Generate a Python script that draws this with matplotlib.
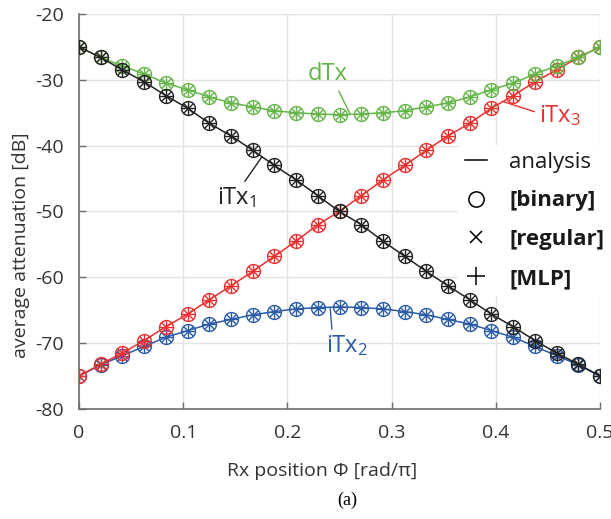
import numpy as np
import matplotlib
matplotlib.use('Agg')
import matplotlib.pyplot as plt
from matplotlib.lines import Line2D

plt.rcParams['font.family'] = ['Open Sans', 'DejaVu Sans']
plt.rcParams['mathtext.default'] = 'regular'
plt.rcParams['axes.unicode_minus'] = False

# Rx position in units of rad/pi, 25 samples
phi = np.arange(25) / 48

# values (first half, the curves are symmetric around 0.25)
itx1_half = [-25.0, -26.6, -28.5, -30.3, -32.4, -34.3, -36.6, -38.5, -40.7, -43.0, -45.2, -47.6, -50.0]
itx1_tail = [-52.0, -54.5, -56.8, -59.1, -61.3, -63.4, -65.6, -67.5, -69.6, -71.5, -73.2, -75.0]
dtx_half = [-25.0, -26.6, -27.9, -29.1, -30.5, -31.5, -32.6, -33.5, -34.1, -34.7, -35.0, -35.2, -35.3]
itx2_half = [-75.0, -73.3, -71.9, -70.5, -69.1, -68.1, -67.1, -66.4, -65.7, -65.2, -64.8, -64.6, -64.5]

itx1 = np.array(itx1_half + itx1_tail)
itx3 = itx1[::-1]
dtx = np.array(dtx_half + dtx_half[-2::-1])
itx2 = np.array(itx2_half + itx2_half[-2::-1])

c_black = '#222222'
c_red = '#e8312f'
c_green = '#63b548'
c_blue = '#2b5ba8'

fig = plt.figure(figsize=(6.11, 5.19), dpi=100)
ax = fig.add_axes([0.1293, 0.212, 0.8527, 0.761])

for y, col in [(itx2, c_blue), (itx3, c_red), (dtx, c_green), (itx1, c_black)]:
    ax.plot(phi, y, color=col, lw=1.1, marker='o', ms=10, mfc='none', mec=col, mew=1.0, zorder=3)
    ax.plot(phi, y, color=col, ls='none', marker='+', ms=10, mew=1.0, zorder=3)
    ax.plot(phi, y, color=col, ls='none', marker='x', ms=7, mew=1.0, zorder=3)

ax.set_xlim(0, 0.5)
ax.set_ylim(-80, -20)
ax.set_xticks([0, 0.1, 0.2, 0.3, 0.4, 0.5])
ax.set_xticklabels(['0', '0.1', '0.2', '0.3', '0.4', '0.5'])
ax.set_yticks(np.arange(-80, -19, 10))
ax.grid(True, color='#e3e3e3', lw=1.0)
ax.set_axisbelow(True)
for s in ['top', 'right']:
    ax.spines[s].set_visible(False)
for s in ['left', 'bottom']:
    ax.spines[s].set_color('#6e6e6e')
    ax.spines[s].set_linewidth(1.2)
ax.tick_params(direction='in', length=5, width=1, color='#6e6e6e',
               labelsize=14, labelcolor='#333333')
ax.tick_params(axis='x', pad=11)
ax.tick_params(axis='y', pad=11)

# axis labels sit a bit off-centre, towards the origin, like in the original
ax.set_xlabel('Rx position Φ [rad/π]', fontsize=14, color='#333333')
ax.set_ylabel('average attenuation [dB]', fontsize=14, color='#333333')
ax.xaxis.set_label_coords(0.466, -0.135)
ax.yaxis.set_label_coords(-0.094, 0.415)

# curve labels
lab = dict(fontsize=17, va='baseline')
ax.annotate('dTx', xy=(0.26, -35.1), xytext=(0.239, -30.0), color=c_green, ha='center', **lab,
            arrowprops=dict(arrowstyle='-', color=c_green, lw=1, relpos=(0.7, 0.0), shrinkA=2, shrinkB=0))
ax.annotate('iTx$_{3}$', xy=(0.407, -33.3), xytext=(0.441, -36.4), color=c_red, ha='left', **lab,
            arrowprops=dict(arrowstyle='-', color=c_red, lw=1, relpos=(0.0, 0.6), shrinkA=1, shrinkB=0))
ax.annotate('iTx$_{1}$', xy=(0.1755, -41.7), xytext=(0.132, -48.9), color=c_black, ha='left', **lab,
            arrowprops=dict(arrowstyle='-', color=c_black, lw=1, relpos=(0.65, 1.0), shrinkA=1, shrinkB=0))
ax.annotate('iTx$_{2}$', xy=(0.241, -64.7), xytext=(0.237, -71.4), color=c_blue, ha='left', **lab,
            arrowprops=dict(arrowstyle='-', color=c_blue, lw=1, relpos=(0.15, 1.0), shrinkA=1, shrinkB=0))

handles = [
    Line2D([], [], color='k', lw=1.1),
    Line2D([], [], color='k', ls='none', marker='o', ms=11, mfc='none', mew=1.1),
    Line2D([], [], color='k', ls='none', marker='x', ms=9, mew=1.1),
    Line2D([], [], color='k', ls='none', marker='+', ms=13, mew=1.1),
]
leg = ax.legend(handles, ['analysis', '[binary]', '[regular]', '[MLP]'],
                loc='upper left', bbox_to_anchor=(0.364, -39.9), bbox_transform=ax.transData,
                fontsize=16, frameon=True, facecolor='white', edgecolor='none', framealpha=1,
                handlelength=1.0, handletextpad=1.0, labelspacing=0.8, borderpad=0.3,
                borderaxespad=0)
leg.set_zorder(2.5)  # hides the grid but not the curves
for t in leg.get_texts():
    t.set_color('#1a1a1a')
for t in leg.get_texts()[1:]:
    t.set_fontweight('bold')

fig.text(0.568, 0.035, '(a)', fontsize=13, family='Liberation Serif', ha='center', va='center')

fig.savefig('out.png', dpi=100)
